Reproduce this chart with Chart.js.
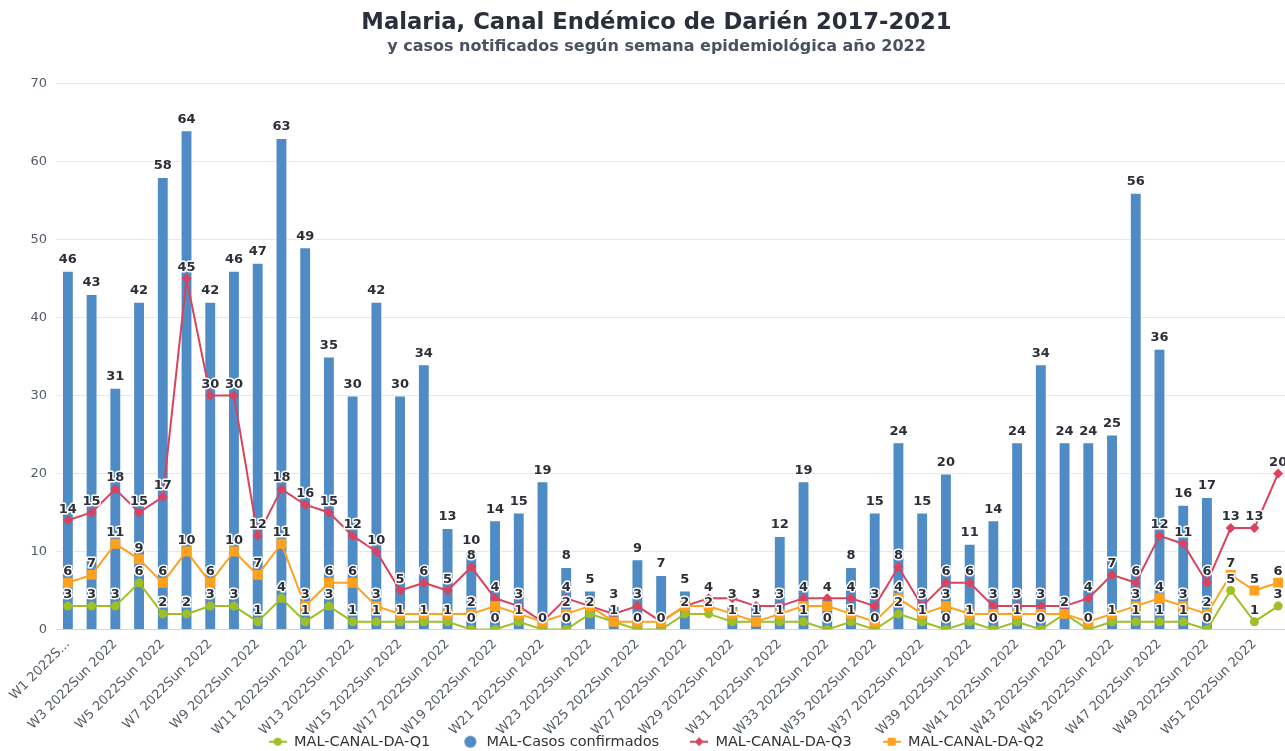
<!DOCTYPE html>
<html><head><meta charset="utf-8">
<script src="https://cdn.jsdelivr.net/npm/chart.js@4.4.1/dist/chart.umd.min.js"></script>
<style>html,body{margin:0;padding:0;overflow:hidden;background:#fff;width:1285px;height:751px}canvas{display:block}</style>
</head><body><canvas id="c" width="1313" height="751"></canvas>
<script>
const weeks = ['W1 2022Sun 2022','W2 2022Sun 2022','W3 2022Sun 2022','W4 2022Sun 2022','W5 2022Sun 2022','W6 2022Sun 2022','W7 2022Sun 2022','W8 2022Sun 2022','W9 2022Sun 2022','W10 2022Sun 2022',
'W11 2022Sun 2022','W12 2022Sun 2022','W13 2022Sun 2022','W14 2022Sun 2022','W15 2022Sun 2022','W16 2022Sun 2022','W17 2022Sun 2022','W18 2022Sun 2022','W19 2022Sun 2022','W20 2022Sun 2022',
'W21 2022Sun 2022','W22 2022Sun 2022','W23 2022Sun 2022','W24 2022Sun 2022','W25 2022Sun 2022','W26 2022Sun 2022','W27 2022Sun 2022','W28 2022Sun 2022','W29 2022Sun 2022','W30 2022Sun 2022',
'W31 2022Sun 2022','W32 2022Sun 2022','W33 2022Sun 2022','W34 2022Sun 2022','W35 2022Sun 2022','W36 2022Sun 2022','W37 2022Sun 2022','W38 2022Sun 2022','W39 2022Sun 2022','W40 2022Sun 2022',
'W41 2022Sun 2022','W42 2022Sun 2022','W43 2022Sun 2022','W44 2022Sun 2022','W45 2022Sun 2022','W46 2022Sun 2022','W47 2022Sun 2022','W48 2022Sun 2022','W49 2022Sun 2022','W50 2022Sun 2022',
'W51 2022Sun 2022','W52 2022Sun 2022'];
const firstLabelShort = 'W1 2022S...';

const casosConfirmados = [46,43,31,42,58,64,42,46,47,63, 49,35,30,42,30,34,13,10,14,15, 19,8,5,3,9,7,5,null,3,3, 12,19,4,8,15,24,15,20,11,14, 24,34,24,24,25,56,36,16,17,null, null,null];
const canalQ1 = [3,3,3,6,2,2,3,3,1,4, 1,3,1,1,1,1,1,0,0,1, 0,0,2,1,0,0,2,2,1,1, 1,1,0,1,0,2,1,0,1,0, 1,0,2,0,1,1,1,1,0,5, 1,3];
const canalQ2 = [6,7,11,9,6,10,6,10,7,11, 3,6,6,3,2,2,2,2,3,2, 1,2,3,1,1,1,3,3,2,1, 2,3,3,2,1,4,2,3,2,2, 2,2,2,1,2,3,4,3,2,7, 5,6];
const canalQ3 = [14,15,18,15,17,45,30,30,12,18, 16,15,12,10,5,6,5,8,4,3, 1,4,3,2,3,1,3,4,4,3, 3,4,4,4,3,8,3,6,6,3, 3,3,3,4,7,6,12,11,6,13, 13,20];
const yTicks = [0,10,20,30,40,50,60,70];

const seriesNames = ['MAL-CANAL-DA-Q1','MAL-Casos confirmados','MAL-CANAL-DA-Q3','MAL-CANAL-DA-Q2'];
const C_GREEN = '#9fbf24', C_BLUE = '#4f8bc5', C_RED = '#d9435e', C_ORANGE = '#ffa11c';

function legendIcon(kind, color) {
  const cv = document.createElement('canvas');
  cv.width = 18; cv.height = 14;
  const g = cv.getContext('2d');
  g.fillStyle = color; g.strokeStyle = color;
  if (kind !== 'circleOnly') {
    g.lineWidth = 2; g.beginPath(); g.moveTo(0, 7); g.lineTo(18, 7); g.stroke();
  }
  g.beginPath();
  if (kind === 'circle') { g.arc(9, 7, 4, 0, Math.PI * 2); }
  else if (kind === 'circleOnly') { g.arc(9, 7, 6, 0, Math.PI * 2); }
  else if (kind === 'diamond') { g.moveTo(9, 2.5); g.lineTo(13.5, 7); g.lineTo(9, 11.5); g.lineTo(4.5, 7); g.closePath(); }
  else if (kind === 'square') { g.rect(5, 3, 8, 8); }
  g.fill();
  return cv;
}
const legendIcons = [legendIcon('circle', C_GREEN), legendIcon('circleOnly', C_BLUE), legendIcon('diamond', C_RED), legendIcon('square', C_ORANGE)];

const dataLabelPlugin = {
  id: 'dataLabelsHC',
  afterDatasetsDraw(chart) {
    const ctx = chart.ctx;
    ctx.save();
    ctx.font = 'bold 13px "DejaVu Sans"';
    const items = [];
    chart.data.datasets.forEach((ds, di) => {
      const meta = chart.getDatasetMeta(di);
      meta.data.forEach((el, i) => {
        const v = ds.data[i];
        if (v === null || v === undefined) return;
        const text = String(Math.round(v));
        const w = ctx.measureText(text).width;
        const rank = ds.type === 'bar' ? (el.base - el.y) : 0;
        items.push({ text, x: el.x, y: el.y - 11, w, h: 12, rank, show: true });
      });
    });
    items.sort((a, b) => b.rank - a.rank);
    for (let i = 0; i < items.length; i++) {
      for (let j = i + 1; j < items.length; j++) {
        const a = items[i], b = items[j];
        if (!a.show || !b.show) continue;
        if (Math.abs(a.x - b.x) < (a.w + b.w) / 2 && Math.abs(a.y - b.y) < (a.h + b.h) / 2) {
          (a.rank < b.rank ? a : b).show = false;
        }
      }
    }
    ctx.textAlign = 'center';
    ctx.textBaseline = 'middle';
    ctx.lineJoin = 'round';
    items.forEach(it => {
      if (!it.show) return;
      ctx.lineWidth = 3;
      ctx.strokeStyle = '#ffffff';
      ctx.strokeText(it.text, it.x, it.y);
      ctx.fillStyle = '#2c2f38';
      ctx.fillText(it.text, it.x, it.y);
    });
    ctx.restore();
  }
};

const extendXLabelArea = {
  id: 'extendXLabelArea',
  afterLayout(chart) {
    const s = chart.scales.x;
    s.bottom = chart.height;
    s.height = s.bottom - s.top;
  }
};

new Chart(document.getElementById('c'), {
  data: {
    labels: weeks,
    datasets: [
      { type: 'line', label: seriesNames[0], data: canalQ1, borderColor: C_GREEN, backgroundColor: C_GREEN, borderWidth: 2,
        pointStyle: 'circle', pointRadius: 4.5, pointBackgroundColor: C_GREEN, pointBorderWidth: 0, order: 3 },
      { type: 'bar', label: seriesNames[1], data: casosConfirmados, backgroundColor: C_BLUE, borderColor: '#ffffff', borderWidth: 1,
        barPercentage: 0.5, categoryPercentage: 1.0, order: 10 },
      { type: 'line', label: seriesNames[2], data: canalQ3, borderColor: C_RED, backgroundColor: C_RED, borderWidth: 2,
        pointStyle: 'rectRot', pointRadius: 5, pointBackgroundColor: C_RED, pointBorderWidth: 0, order: 2 },
      { type: 'line', label: seriesNames[3], data: canalQ2, borderColor: C_ORANGE, backgroundColor: C_ORANGE, borderWidth: 2,
        pointStyle: 'rect', pointRadius: 7, pointBackgroundColor: C_ORANGE, pointBorderWidth: 0, order: 1 }
    ]
  },
  options: {
    responsive: false,
    animation: false,
    events: [],
    layout: { padding: { left: 23, right: 23, top: 0, bottom: -8 } },
    scales: {
      x: {
        grid: { display: false, drawTicks: false },
        border: { display: true, color: '#ccd6eb', width: 1 },
        ticks: {
          autoSkip: false, minRotation: 45, maxRotation: 45, padding: 7,
          color: '#555b66', font: { family: 'DejaVu Sans', size: 13 },
          callback: function(val, idx) {
            if (idx % 2 !== 0) return null;
            return idx === 0 ? firstLabelShort : weeks[idx];
          }
        },
        afterFit(scale) { scale.height = 74; scale.paddingLeft = 0; scale.paddingRight = 0; }
      },
      y: {
        min: yTicks[0], max: yTicks[yTicks.length - 1],
        grid: { color: '#e6e6e6', drawTicks: false, lineWidth: 1 },
        border: { display: false },
        ticks: { stepSize: yTicks[1] - yTicks[0], padding: 9, color: '#555b66', font: { family: 'DejaVu Sans', size: 13 } },
        afterFit(scale) { scale.width = 33; }
      }
    },
    plugins: {
      tooltip: { enabled: false },
      title: {
        display: true, text: 'Malaria, Canal Endémico de Darién 2017-2021', color: '#2b2f3b',
        font: { family: 'DejaVu Sans', size: 22.7, weight: 'bold', lineHeight: 1.2 },
        padding: { top: 9, bottom: 0 }
      },
      subtitle: {
        display: true, text: 'y casos notificados según semana epidemiológica año 2022', color: '#4a5160',
        font: { family: 'DejaVu Sans', size: 16, weight: 'bold', lineHeight: 1.2 },
        padding: { top: 1, bottom: 27 }
      },
      legend: {
        display: true, position: 'bottom',
        labels: {
          usePointStyle: true, pointStyleWidth: 18, padding: 31,
          color: '#333333', font: { family: 'DejaVu Sans', size: 14.5 },
          generateLabels(chart) {
            return chart.data.datasets.map((ds, i) => ({
              text: ds.label, pointStyle: legendIcons[i], fillStyle: ds.backgroundColor,
              strokeStyle: ds.backgroundColor, lineWidth: 0, hidden: false, datasetIndex: i, fontColor: '#333333'
            }));
          }
        }
      }
    }
  },
  plugins: [dataLabelPlugin, extendXLabelArea]
});
</script>
</body></html>
